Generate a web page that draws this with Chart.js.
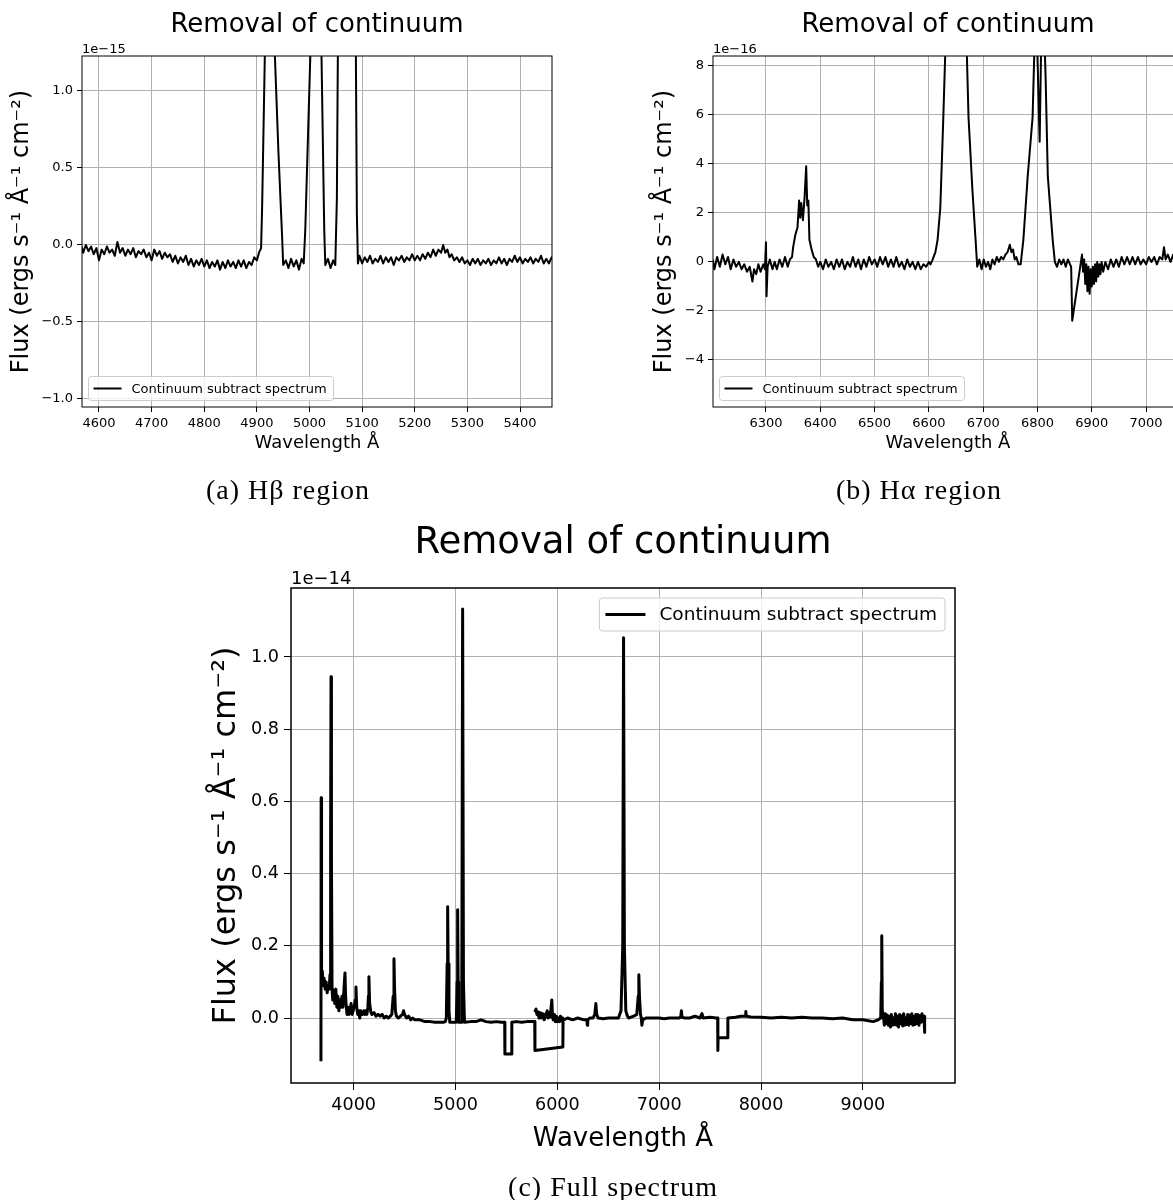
<!DOCTYPE html>
<html>
<head>
<meta charset="utf-8">
<title>Removal of continuum</title>
<script src="https://cdn.jsdelivr.net/npm/chart.js@4.4.1/dist/chart.umd.min.js"></script>
<style>
  html, body { margin: 0; padding: 0; background: #fff; }
  body { width: 1173px; height: 1200px; overflow: hidden; position: relative; }
  canvas { position: absolute; }
  #chartA { left: 0; top: 0; }
  #chartB { left: 631px; top: 0; }
  #chartC { left: 180px; top: 500px; }
  .caption {
    position: absolute; transform: translateX(-50%); white-space: nowrap;
    font-family: 'Liberation Serif', serif; font-size: 28px; line-height: 32px;
    letter-spacing: 1px; color: #000;
  }
</style>
</head>
<body>
<canvas id="chartA" width="580" height="470"></canvas>
<canvas id="chartB" width="580" height="470"></canvas>
<canvas id="chartC" width="800" height="680"></canvas>
<div class="caption" style="left:288px; top:474px">(a) Hβ region</div>
<div class="caption" style="left:919px; top:474px">(b) Hα region</div>
<div class="caption" style="left:613px; top:1171px">(c) Full spectrum</div>

<script>
// ── Hβ region (flux in 1e-15) ──
const hbWave = [
  4567, 4570, 4575, 4580, 4585, 4590, 4595, 4600, 4605, 4610,
  4615, 4620, 4625, 4630, 4635, 4640, 4645, 4650, 4655, 4660,
  4665, 4670, 4675, 4680, 4685, 4690, 4695, 4700, 4705, 4710,
  4715, 4720, 4725, 4730, 4735, 4740, 4745, 4750, 4755, 4760,
  4765, 4770, 4775, 4780, 4785, 4790, 4795, 4800, 4805, 4810,
  4815, 4820, 4825, 4830, 4835, 4840, 4845, 4850, 4855, 4860,
  4865, 4870, 4875, 4880, 4885, 4890, 4895, 4900, 4904, 4908,
  4910, 4916, 4925, 4934, 4941, 4948, 4950, 4955, 4960, 4965,
  4970, 4975, 4980, 4985, 4989, 4992, 5003, 5012, 5022, 5028,
  5030, 5035, 5040, 5045, 5049, 5052, 5054, 5070, 5088, 5090,
  5092, 5095, 5100, 5105, 5110, 5115, 5120, 5125, 5130, 5135,
  5140, 5145, 5150, 5155, 5160, 5165, 5170, 5175, 5180, 5185,
  5190, 5195, 5200, 5205, 5210, 5215, 5220, 5225, 5230, 5235,
  5240, 5245, 5250, 5254, 5258, 5262, 5266, 5270, 5275, 5280,
  5285, 5290, 5295, 5300, 5305, 5310, 5315, 5320, 5325, 5330,
  5335, 5340, 5345, 5350, 5355, 5360, 5365, 5370, 5375, 5380,
  5385, 5390, 5395, 5400, 5405, 5410, 5415, 5420, 5425, 5430,
  5435, 5440, 5445, 5450, 5455, 5460, 5465
];
const hbFlux = [
  -0.01, -0.05, 0.00, -0.04, -0.01, -0.06, -0.02, -0.10, -0.03, -0.06,
  -0.01, -0.05, -0.03, -0.07, 0.02, -0.05, -0.02, -0.07, -0.03, -0.06,
  -0.02, -0.08, -0.04, -0.06, -0.03, -0.08, -0.05, -0.10, -0.03, -0.07,
  -0.04, -0.09, -0.05, -0.08, -0.06, -0.11, -0.07, -0.12, -0.08, -0.11,
  -0.07, -0.13, -0.09, -0.14, -0.10, -0.13, -0.09, -0.14, -0.10, -0.15,
  -0.11, -0.14, -0.10, -0.16, -0.11, -0.15, -0.10, -0.14, -0.11, -0.15,
  -0.10, -0.14, -0.10, -0.15, -0.11, -0.13, -0.08, -0.10, -0.05, -0.02,
  0.25, 1.4, 3.1, 1.25, 0.6, 0.05, -0.13, -0.10, -0.15, -0.09,
  -0.14, -0.10, -0.16, -0.09, -0.12, 0.10, 1.4, 3.0, 1.4, 0.10,
  -0.13, -0.09, -0.15, -0.10, -0.13, 0.3, 1.3, 11.3, 1.3, 0.2,
  -0.12, -0.07, -0.12, -0.08, -0.11, -0.07, -0.12, -0.09, -0.11, -0.07,
  -0.12, -0.08, -0.11, -0.08, -0.13, -0.08, -0.10, -0.07, -0.11, -0.08,
  -0.10, -0.06, -0.10, -0.07, -0.10, -0.06, -0.09, -0.05, -0.08, -0.03,
  -0.07, -0.03, -0.05, 0.00, -0.05, -0.03, -0.08, -0.06, -0.10, -0.08,
  -0.11, -0.08, -0.12, -0.10, -0.13, -0.09, -0.12, -0.09, -0.13, -0.10,
  -0.12, -0.09, -0.13, -0.10, -0.12, -0.08, -0.12, -0.09, -0.13, -0.09,
  -0.11, -0.07, -0.11, -0.08, -0.12, -0.09, -0.11, -0.08, -0.12, -0.09,
  -0.11, -0.07, -0.12, -0.09, -0.12, -0.08, -0.11
];
const hbTicksX = [4600, 4700, 4800, 4900, 5000, 5100, 5200, 5300, 5400];
const hbTicksY = [-1.0, -0.5, 0.0, 0.5, 1.0];

// ── Hα region (flux in 1e-16) ──
const haWave = [
  6202, 6205, 6210, 6215, 6220, 6225, 6230, 6235, 6240, 6245,
  6250, 6255, 6260, 6265, 6270, 6275, 6278, 6282, 6286, 6290,
  6295, 6298, 6300, 6301, 6303, 6307, 6312, 6316, 6320, 6325,
  6330, 6335, 6340, 6344, 6348, 6350, 6354, 6358, 6361, 6363,
  6365, 6368, 6371, 6374, 6376, 6378, 6380, 6384, 6388, 6392,
  6396, 6400, 6405, 6410, 6415, 6420, 6425, 6430, 6435, 6440,
  6445, 6450, 6455, 6460, 6465, 6470, 6475, 6480, 6485, 6490,
  6495, 6500, 6505, 6510, 6515, 6520, 6525, 6530, 6535, 6540,
  6545, 6550, 6555, 6560, 6565, 6570, 6575, 6580, 6585, 6590,
  6595, 6600, 6603, 6607, 6612, 6616, 6621, 6626, 6630, 6633,
  6650, 6667, 6670, 6673, 6680, 6686, 6689, 6693, 6697, 6701,
  6705, 6709, 6713, 6717, 6721, 6725, 6729, 6733, 6737, 6741,
  6745, 6749, 6752, 6755, 6758, 6761, 6765, 6769, 6774, 6782,
  6791, 6794, 6797, 6804, 6809, 6815, 6819, 6828, 6832, 6836,
  6840, 6844, 6848, 6852, 6856, 6860, 6862, 6864, 6882, 6884,
  6886, 6888, 6890, 6892, 6894, 6896, 6898, 6900, 6902, 6904,
  6906, 6908, 6910, 6912, 6914, 6916, 6918, 6921, 6925, 6930,
  6935, 6940, 6945, 6950, 6955, 6960, 6965, 6970, 6975, 6980,
  6985, 6990, 6995, 7000, 7005, 7010, 7015, 7020, 7025, 7030,
  7033, 7036, 7040, 7045, 7050, 7055, 7060, 7065, 7070
];
const haFlux = [
  0.1, -0.3, 0.2, -0.2, 0.3, -0.1, 0.2, -0.3, 0.1, -0.2,
  0.0, -0.3, -0.1, -0.4, -0.2, -0.8, -0.3, -0.5, -0.1, -0.4,
  -0.1, -0.3, 0.8, -1.4, -0.2, 0.1, -0.3, 0.0, -0.3, 0.1,
  -0.2, 0.2, -0.2, 0.1, 0.2, 0.6, 1.1, 1.4, 2.5, 1.8,
  2.4, 1.7, 2.6, 3.9, 2.3, 2.5, 0.9, 0.5, 0.2, 0.1,
  -0.2, 0.0, -0.3, 0.1, -0.2, 0.0, -0.3, 0.1, -0.2, 0.1,
  -0.3, 0.0, -0.2, 0.2, -0.2, 0.1, -0.3, 0.1, -0.2, 0.2,
  -0.1, 0.1, -0.2, 0.2, -0.1, 0.2, -0.2, 0.1, -0.2, 0.2,
  -0.2, 0.0, -0.3, 0.1, -0.2, 0.0, -0.3, 0.0, -0.3, -0.1,
  -0.2, 0.0, -0.1, 0.1, 0.4, 0.9, 2.2, 5.5, 8.4, 15,
  105, 15, 8.4, 5.9, 3.0, 0.9, -0.2, 0.1, -0.3, 0.1,
  -0.2, 0.0, -0.3, 0.1, -0.1, 0.2, 0.0, 0.2, 0.1, 0.3,
  0.4, 0.7, 0.4, 0.5, 0.1, 0.2, -0.1, -0.1, 0.9, 3.5,
  5.9, 8.4, 11, 4.9, 12, 7.5, 3.5, 0.9, 0.0, -0.2,
  0.1, -0.1, 0.1, -0.2, 0.1, -0.1, -0.2, -2.4, 0.3, -0.4,
  0.1, -0.9, -0.1, -1.2, -0.2, -1.3, -0.3, -1.0, -0.2, -0.9,
  -0.1, -0.8, 0.0, -0.6, -0.1, -0.5, 0.0, -0.4, 0.0, -0.3,
  0.1, -0.2, 0.1, -0.2, 0.2, -0.1, 0.2, -0.1, 0.2, -0.1,
  0.2, -0.1, 0.1, -0.1, 0.2, 0.0, 0.2, -0.1, 0.2, 0.1,
  0.6, 0.1, 0.3, 0.0, 0.3, 0.1, 0.3, 0.1, 0.2
];
const haTicksX = [6300, 6400, 6500, 6600, 6700, 6800, 6900, 7000];
const haTicksY = [-4, -2, 0, 2, 4, 6, 8];

// ── Full spectrum (flux in 1e-14), points kept in the order of the source arrays ──
const fullWave = [
  3679, 3681, 3685, 3692, 3700, 3710, 3720, 3730, 3740, 3750,
  3760, 3768, 3774, 3778, 3782, 3788, 3795, 3805, 3815, 3825,
  3835, 3845, 3855, 3865, 3875, 3885, 3895, 3905, 3915, 3921,
  3928, 3935, 3945, 3955, 3965, 3975, 3985, 3995, 4005, 4016,
  4023, 4030, 4040, 4050, 4060, 4070, 4080, 4090, 4100, 4110,
  4120, 4130, 4140, 4145, 4150, 4157, 4170, 4180, 4200, 4220,
  4240, 4260, 4280, 4300, 4320, 4340, 4360, 4375, 4388, 4396,
  4402, 4410, 4420, 4440, 4460, 4480, 4490, 4500, 4520, 4540,
  4560, 4580, 4600, 4650, 4700, 4750, 4800, 4850, 4880, 4900,
  4910, 4918, 4923, 4928, 4936, 4944, 5008, 5016, 5021, 5026,
  5031, 5055, 5062, 5070, 5078, 5088, 5150, 5200, 5250, 5300,
  5350, 5400, 5450, 5483, 5485, 5551, 5553, 5600, 5650, 5700,
  5760, 5778, 5780, 6054, 6056, 5782, 5790, 5800, 5810, 5820,
  5830, 5840, 5855, 5870, 5885, 5900, 5910, 5920, 5935, 5946,
  5952, 5960, 5970, 5980, 5990, 6000, 6010, 6020, 6030, 6045,
  6052, 6060, 6100, 6150, 6200, 6260, 6290, 6294, 6298, 6320,
  6350, 6368, 6378, 6386, 6400, 6450, 6500, 6550, 6600, 6625,
  6642, 6650, 6658, 6672, 6688, 6700, 6750, 6780, 6794, 6800,
  6806, 6816, 6824, 6830, 6838, 6870, 6900, 6950, 7000, 7050,
  7100, 7150, 7200, 7212, 7218, 7224, 7250, 7300, 7350, 7400,
  7420, 7430, 7500, 7560, 7574, 7576, 7578, 7672, 7674, 7750,
  7800, 7845, 7850, 7855, 7900, 8000, 8100, 8200, 8300, 8400,
  8500, 8600, 8700, 8800, 8900, 9000, 9100, 9150, 9175, 9181,
  9185, 9190, 9200, 9210, 9220, 9230, 9240, 9250, 9260, 9270,
  9280, 9290, 9300, 9310, 9320, 9330, 9340, 9350, 9360, 9370,
  9380, 9390, 9400, 9410, 9420, 9430, 9440, 9450, 9460, 9470,
  9480, 9490, 9500, 9510, 9520, 9530, 9540, 9550, 9560, 9570,
  9580, 9590, 9600, 9605, 9607
];
const fullFlux = [
  -0.12, 0.61, 0.12, 0.13, 0.09, 0.11, 0.08, 0.10, 0.07, 0.09,
  0.08, 0.12, 0.5, 0.945, 0.45, 0.08, 0.05, 0.07, 0.04, 0.08,
  0.03, 0.06, 0.02, 0.05, 0.03, 0.06, 0.03, 0.08, 0.125, 0.06,
  0.03, 0.01, 0.03, 0.01, 0.02, 0.04, 0.01, 0.02, 0.03, 0.05,
  0.086, 0.03, 0.01, 0.02, 0.0, 0.02, 0.01, 0.01, 0.02, 0.01,
  0.02, 0.01, 0.03, 0.06, 0.114, 0.04, 0.015, 0.01, 0.015, 0.005,
  0.01, 0.005, 0.01, 0.0, 0.005, 0.0, 0.005, 0.01, 0.06, 0.164,
  0.08, 0.02, 0.005, 0.0, 0.005, 0.01, 0.02, 0.01, 0.0, 0.005,
  -0.005, 0.0, -0.005, -0.005, -0.01, -0.01, -0.012, -0.012, -0.012, -0.01,
  0.0, 0.15, 0.308, 0.15, 0.02, -0.012, -0.012, 0.1, 0.30, 0.1,
  -0.012, -0.012, 0.1, 1.133, 0.1, -0.012, -0.01, -0.01, -0.005, -0.01,
  -0.012, -0.01, -0.012, -0.012, -0.10, -0.10, -0.012, -0.01, -0.012, -0.01,
  -0.01, -0.01, -0.09, -0.08, -0.01, 0.02, 0.025, 0.01, 0.015, 0.0,
  0.01, 0.0, 0.01, -0.005, 0.005, 0.02, 0.0, 0.005, 0.02, 0.05,
  0.005, -0.005, 0.01, -0.01, 0.005, -0.01, 0.0, -0.01, 0.005, -0.005,
  0.0, -0.005, 0.0, -0.005, 0.0, -0.005, -0.005, -0.02, -0.005, 0.0,
  0.0, 0.01, 0.04, 0.01, 0.0, -0.002, 0.0, 0.0, 0.0, 0.02,
  0.2, 1.053, 0.2, 0.02, 0.005, 0.0, 0.005, 0.01, 0.06, 0.12,
  0.06, 0.01, 0.0, -0.02, -0.005, 0.0, 0.0, 0.0, 0.0, -0.002,
  0.0, 0.0, 0.0, 0.005, 0.02, 0.002, 0.0, 0.0, 0.005, 0.0,
  0.012, 0.0, 0.002, 0.0, 0.0, -0.09, -0.055, -0.055, 0.0, 0.002,
  0.005, 0.005, 0.018, 0.005, 0.003, 0.002, 0.0, 0.002, 0.0, 0.002,
  0.0, 0.0, -0.002, 0.0, -0.005, -0.005, -0.01, -0.005, 0.0, 0.1,
  0.228, 0.02, 0.01, -0.02, 0.012, -0.015, 0.008, -0.02, 0.005, -0.025,
  0.01, -0.02, 0.0, -0.018, 0.012, -0.02, 0.005, -0.025, 0.01, -0.015,
  0.006, -0.022, 0.012, -0.02, 0.0, -0.018, 0.01, -0.02, 0.008, -0.015,
  0.012, -0.02, 0.004, -0.018, 0.01, -0.015, 0.01, -0.02, 0.006, -0.012,
  0.012, -0.01, 0.005, -0.005, -0.04
];
const fullTicksX = [4000, 5000, 6000, 7000, 8000, 9000];
const fullTicksY = [0.0, 0.2, 0.4, 0.6, 0.8, 1.0];

const FONT = 'DejaVu Sans';
const SERIES_LABEL = 'Continuum subtract spectrum';
const minus = s => s.replace('-', '\u2212');

// ── Frame, title, offset text and in-axes legend (matplotlib style) ──
const framePlugin = {
  id: 'frame',
  afterDraw(chart, args, o) {
    const { ctx, chartArea: a } = chart;
    ctx.save();
    // title centred on the axes
    ctx.fillStyle = '#000';
    ctx.font = o.titleFont;
    ctx.textAlign = 'center';
    ctx.textBaseline = 'alphabetic';
    ctx.fillText('Removal of continuum', (a.left + a.right) / 2, o.titleBaseline);
    // offset text
    ctx.font = o.offsetFont;
    ctx.textAlign = 'left';
    ctx.fillText(o.offsetText, a.left, a.top - o.offsetGap);
    // spines
    ctx.strokeStyle = '#000';
    ctx.lineWidth = o.spine;
    ctx.strokeRect(a.left, a.top, a.right - a.left, a.bottom - a.top);
    // legend
    const L = o.legend;
    ctx.font = L.font;
    const tw = ctx.measureText(SERIES_LABEL).width;
    const w = L.pad + L.lineLen + L.gap + tw + L.padR;
    let x0, y0;
    if (L.corner === 'lower left') { x0 = a.left + L.margin; y0 = a.bottom - L.margin - L.h; }
    else { x0 = a.right - L.margin - w; y0 = a.top + L.margin; }
    ctx.beginPath();
    ctx.roundRect(x0, y0, w, L.h, 3);
    ctx.fillStyle = 'rgba(255,255,255,0.8)';
    ctx.fill();
    ctx.strokeStyle = '#cccccc';
    ctx.lineWidth = 1;
    ctx.stroke();
    const cy = y0 + L.h / 2;
    ctx.beginPath();
    ctx.moveTo(x0 + L.pad, cy);
    ctx.lineTo(x0 + L.pad + L.lineLen, cy);
    ctx.strokeStyle = '#000';
    ctx.lineWidth = L.lineWidth;
    ctx.stroke();
    ctx.fillStyle = '#000';
    ctx.textBaseline = 'middle';
    ctx.fillText(SERIES_LABEL, x0 + L.pad + L.lineLen + L.gap, cy + 1);
    ctx.restore();
  }
};

function buildPanel(canvasId, p) {
  return new Chart(document.getElementById(canvasId), {
    type: 'line',
    data: {
      datasets: [{
        label: SERIES_LABEL,
        data: p.wave.map((x, i) => ({ x, y: p.flux[i] })),
        borderColor: '#000',
        borderWidth: p.lineWidth,
        borderJoinStyle: 'round',
        pointRadius: 0,
        tension: 0,
        fill: false
      }]
    },
    options: {
      responsive: false,
      animation: false,
      devicePixelRatio: 1,
      layout: { padding: { left: 0, right: p.padRight, top: p.padTop, bottom: 0 } },
      plugins: {
        legend: { display: false },
        tooltip: { enabled: false },
        frame: p.frame
      },
      scales: {
        x: {
          type: 'linear', min: p.xMin, max: p.xMax,
          afterBuildTicks: s => { s.ticks = p.xTicks.map(v => ({ value: v })); },
          afterFit: s => { s.height = p.xAxisHeight; },
          ticks: {
            autoSkip: false, maxRotation: 0, color: '#000', padding: p.tickPad,
            font: { family: FONT, size: p.tickSize }, callback: v => String(v)
          },
          grid: { color: '#b0b0b0', lineWidth: 1, tickColor: '#000', tickLength: p.tickLen },
          border: { display: false },
          title: {
            display: true, text: 'Wavelength Å', color: '#000',
            font: { family: FONT, size: p.xTitleSize, lineHeight: 1.2 },
            padding: { top: 0, bottom: p.xTitlePad }
          }
        },
        y: {
          type: 'linear', min: p.yMin, max: p.yMax,
          afterBuildTicks: s => { s.ticks = p.yTicks.map(v => ({ value: v })); },
          afterFit: s => { s.width = p.yAxisWidth; },
          ticks: {
            autoSkip: false, color: '#000', padding: p.tickPad,
            font: { family: FONT, size: p.tickSize }, callback: p.yFmt
          },
          grid: { color: '#b0b0b0', lineWidth: 1, tickColor: '#000', tickLength: p.tickLen },
          border: { display: false },
          title: {
            display: true, text: 'Flux (ergs s⁻¹ Å⁻¹ cm⁻²)', color: '#000',
            font: { family: FONT, size: p.yTitleSize, lineHeight: 1.2 },
            padding: { top: p.yTitlePad, bottom: 0 }
          }
        }
      }
    },
    plugins: [framePlugin]
  });
}

const smallFrame = (offsetText) => ({
  titleFont: `26px ${FONT}`, titleBaseline: 32,
  offsetText, offsetFont: `13px ${FONT}`, offsetGap: 3, spine: 1,
  legend: { corner: 'lower left', margin: 6.5, h: 24, pad: 5, lineLen: 28, gap: 10, padR: 7,
            font: `13px ${FONT}`, lineWidth: 2 }
});

buildPanel('chartA', {
  wave: hbWave, flux: hbFlux, xTicks: hbTicksX, yTicks: hbTicksY,
  xMin: 4567.7, xMax: 5460.8, yMin: -1.052, yMax: 1.227,
  yFmt: v => minus(v.toFixed(1)),
  padTop: 56, padRight: 28, yAxisWidth: 82, xAxisHeight: 63,
  tickSize: 13, tickLen: 5, tickPad: 4, lineWidth: 2,
  xTitleSize: 18, xTitlePad: 16, yTitleSize: 24, yTitlePad: 7.6,
  frame: smallFrame('1e\u221215')
});

buildPanel('chartB', {
  wave: haWave, flux: haFlux, xTicks: haTicksX, yTicks: haTicksY,
  xMin: 6202.4, xMax: 7068, yMin: -5.92, yMax: 8.4,
  yFmt: v => minus(String(v)),
  padTop: 56, padRight: 28, yAxisWidth: 82, xAxisHeight: 63,
  tickSize: 13, tickLen: 5, tickPad: 4, lineWidth: 2,
  xTitleSize: 18, xTitlePad: 16, yTitleSize: 24, yTitlePad: 19.6,
  frame: smallFrame('1e\u221216')
});

buildPanel('chartC', {
  wave: fullWave, flux: fullFlux, xTicks: fullTicksX, yTicks: fullTicksY,
  xMin: 3385, xMax: 9904, yMin: -0.18, yMax: 1.191,
  yFmt: v => v.toFixed(1),
  padTop: 88, padRight: 25, yAxisWidth: 111, xAxisHeight: 97,
  tickSize: 17.6, tickLen: 7, tickPad: 5, lineWidth: 3,
  xTitleSize: 26, xTitlePad: 25.4, yTitleSize: 32, yTitlePad: 27.8,
  frame: {
    titleFont: `37px ${FONT}`, titleBaseline: 53,
    offsetText: '1e\u221214', offsetFont: `18px ${FONT}`, offsetGap: 4, spine: 1.5,
    legend: { corner: 'upper right', margin: 10, h: 33, pad: 6, lineLen: 40, gap: 14, padR: 8,
              font: `18.5px ${FONT}`, lineWidth: 3 }
  }
});
</script>
</body>
</html>
